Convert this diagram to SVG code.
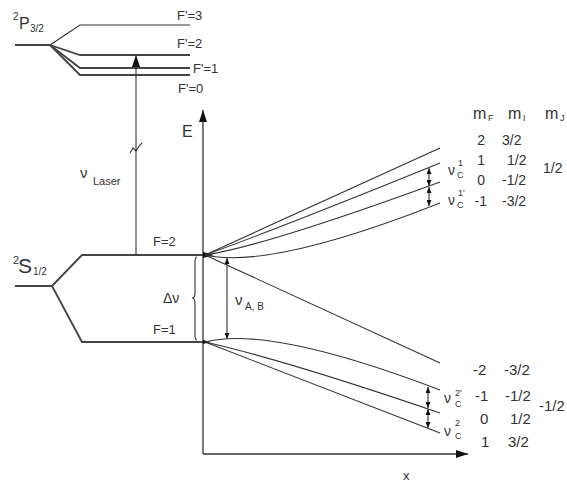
<svg xmlns="http://www.w3.org/2000/svg" width="567" height="483" viewBox="0 0 567 483">
<defs>
<marker id="big" viewBox="0 0 12 8" refX="12" refY="4" markerWidth="12" markerHeight="8" markerUnits="userSpaceOnUse" orient="auto-start-reverse"><path d="M0,0 L12,4 L0,8 Z" fill="#111"/></marker>
<marker id="sm" viewBox="0 0 6 5" refX="6" refY="2.5" markerWidth="6" markerHeight="5" markerUnits="userSpaceOnUse" orient="auto-start-reverse"><path d="M0,0 L6,2.5 L0,5 Z" fill="#111"/></marker>
</defs>
<style>
text{font-family:"Liberation Sans",Arial,sans-serif;fill:#333}
.lv{fill:none;stroke:#444;stroke-width:1.8}
.ln{fill:none;stroke:#333;stroke-width:1.1}
.ax{fill:none;stroke:#333;stroke-width:1.3}
.t13{font-size:13px}
.t14{font-size:14px}
.t15{font-size:15px}
.sub{font-size:9px}
</style>
<rect width="567" height="483" fill="#fff"/>

<g id="P32">
<path class="lv" d="M15,45 L50,45"/>
<path class="ln" d="M50,45 L80,25 L190,25"/>
<path class="lv" d="M50,45 L80,55 L190,55"/>
<path class="lv" d="M50,45 L80,68 L190,68"/>
<path class="lv" stroke="#777" d="M50,45 L80,75 L190,75"/>
<text x="13" y="20" font-size="10">2</text>
<text x="19" y="29" font-size="16">P</text>
<text x="30" y="32" font-size="10">3/2</text>
<text class="t13" x="177" y="20">F'=3</text>
<text class="t13" x="177" y="48">F'=2</text>
<text class="t13" x="193" y="73">F'=1</text>
<text class="t13" x="178" y="93">F'=0</text>
</g>

<g id="S12">
<path class="lv" d="M15,286 L52,286 L82,255 L204,255"/>
<path class="lv" d="M52,286 L82,342 L204,342"/>
<text x="13" y="264" font-size="11">2</text>
<text x="18" y="273" font-size="21">S</text>
<text x="33" y="275" font-size="10">1/2</text>
<text class="t13" x="153" y="246">F=2</text>
<text class="t13" x="153" y="334">F=1</text>
<text class="t14" x="163" y="303">Δν</text>
</g>

<g id="laser">
<path class="ln" d="M136,255 L136,55" marker-end="url(#big)"/>
<path class="ln" stroke-width="1.6" d="M130,153 L133,148 L136,151 L139,146 L142,143"/>
<text class="t15" x="80" y="178">ν</text>
<text x="93" y="185" font-size="11">Laser</text>
</g>

<g id="axes">
<path class="ax" d="M203,454 L203,110" marker-end="url(#big)"/>
<path class="ax" d="M203,454 L468,454" marker-end="url(#big)"/>
<text x="182" y="137" font-size="16">E</text>
<text class="t13" x="403" y="480">x</text>
</g>

<g id="connectors">
<path class="ln" d="M197,257 Q195,257 195,262 L195,293 Q195,298 192,298 Q195,298 195,303 L195,335 Q195,340 197,340"/>
<path class="ln" d="M227,258 L227,339" marker-start="url(#sm)" marker-end="url(#sm)"/>
<path d="M203,252 L214,255 L203,258 Z" fill="#111"/>
<path d="M203,340 L211,342 L203,344 Z" fill="#111"/>
<!-- F=2 Zeeman -->
<path class="ln" d="M205,255 L440,148"/>
<path class="ln" d="M205,255 Q285,226 440,163"/>
<path class="ln" d="M205,255 Q265,246 440,182"/>
<path class="ln" d="M205,255 Q270,270 440,203"/>
<path class="ln" d="M205,255 L440,363"/>
<!-- F=1 Zeeman -->
<path class="ln" d="M205,342 Q270,325 440,390"/>
<path class="ln" d="M205,342 Q285,360 440,413"/>
<path class="ln" d="M205,342 L440,433"/>
<!-- splitting arrows -->
<path class="ln" d="M429,168 L429,186" marker-start="url(#sm)" marker-end="url(#sm)"/>
<path class="ln" d="M429,187 L429,206" marker-start="url(#sm)" marker-end="url(#sm)"/>
<path class="ln" d="M428,387 L428,408" marker-start="url(#sm)" marker-end="url(#sm)"/>
<path class="ln" d="M428,409 L428,428" marker-start="url(#sm)" marker-end="url(#sm)"/>
<text x="235" y="305" font-size="15">ν</text>
<text x="245" y="310" font-size="10">A, B</text>
</g>

<g id="labels-upper">
<text class="t14" x="448" y="175">ν</text>
<text class="sub" x="458" y="166">1</text>
<text class="sub" x="457" y="178">C</text>
<text class="t14" x="448" y="205">ν</text>
<text class="sub" x="458" y="196">1'</text>
<text class="sub" x="457" y="208">C</text>
</g>

<g id="labels-lower">
<text class="t14" x="444" y="403">ν</text>
<text class="sub" x="455" y="396">2'</text>
<text class="sub" x="455" y="407">C</text>
<text class="t14" x="444" y="436">ν</text>
<text class="sub" x="455" y="426">2</text>
<text class="sub" x="455" y="439">C</text>
</g>

<g id="table-upper">
<text x="473" y="119" font-size="16">m</text><text class="sub" x="488" y="121">F</text>
<text x="508" y="119" font-size="16">m</text><text class="sub" x="523" y="121">I</text>
<text x="545" y="119" font-size="16">m</text><text class="sub" x="560" y="121">J</text>
<text class="t14" x="485" y="145" text-anchor="end">2</text>
<text class="t14" x="502" y="145">3/2</text>
<text class="t14" x="485" y="165" text-anchor="end">1</text>
<text class="t14" x="507" y="165">1/2</text>
<text class="t14" x="485" y="185" text-anchor="end">0</text>
<text class="t14" x="502" y="185">-1/2</text>
<text class="t14" x="487" y="206" text-anchor="end">-1</text>
<text class="t14" x="502" y="206">-3/2</text>
<text class="t14" x="543" y="173">1/2</text>
</g>

<g id="table-lower">
<text class="t15" x="473" y="375">-2</text>
<text class="t15" x="504" y="375">-3/2</text>
<text class="t15" x="475" y="401">-1</text>
<text class="t15" x="505" y="401">-1/2</text>
<text class="t15" x="480" y="424">0</text>
<text class="t15" x="510" y="424">1/2</text>
<text class="t15" x="481" y="447">1</text>
<text class="t15" x="508" y="447">3/2</text>
<text class="t15" x="539" y="411">-1/2</text>
</g>
</svg>
